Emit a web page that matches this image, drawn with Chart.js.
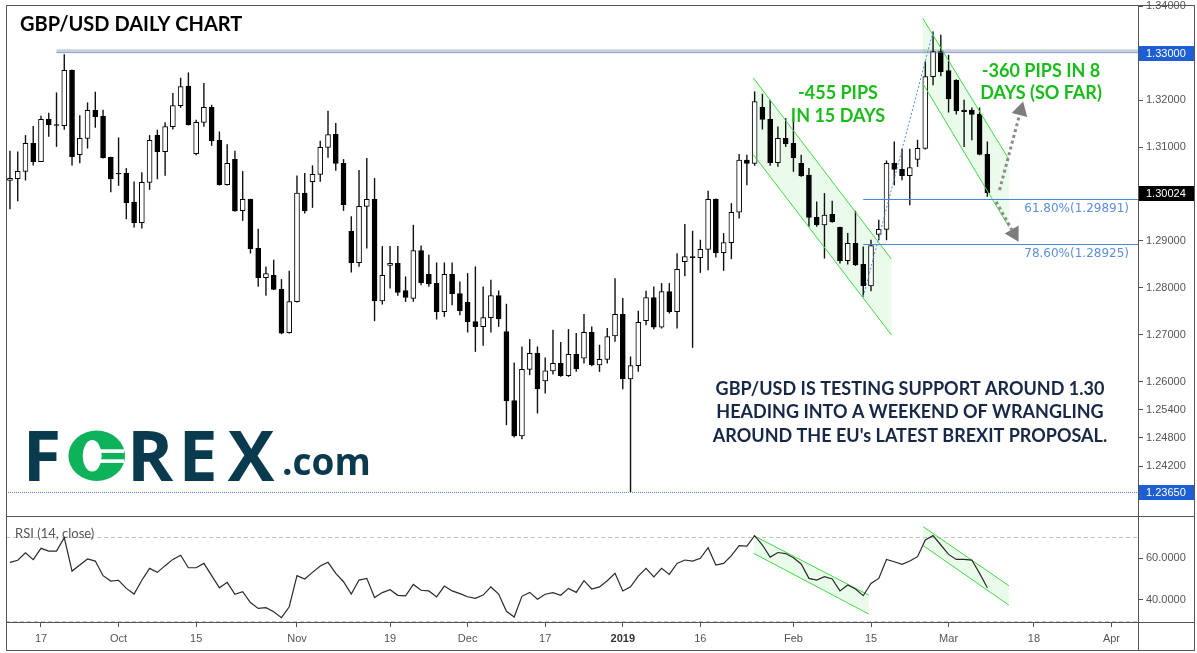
<!DOCTYPE html>
<html>
<head>
<meta charset="utf-8">
<script src="https://cdn.jsdelivr.net/npm/chart.js@4.4.1/dist/chart.umd.min.js"></script>
<style>
  html, body { margin: 0; padding: 0; background: #fff; }
  #wrap { position: relative; width: 1197px; height: 653px; overflow: hidden; }
  #main { position: absolute; left: 0; top: 0; }
  #rsi { position: absolute; left: 0; top: 516px; }
  .ln { position: absolute; background: #555; }
</style>
</head>
<body>
<div id="wrap">
  <canvas id="main" width="1197" height="516"></canvas>
  <canvas id="rsi" width="1197" height="137"></canvas>
  <div class="ln" style="left:6px;top:5px;width:1189px;height:1px"></div>
  <div class="ln" style="left:6px;top:650px;width:1189px;height:1px"></div>
  <div class="ln" style="left:6px;top:5px;width:1px;height:646px"></div>
  <div class="ln" style="left:1194px;top:5px;width:1px;height:646px"></div>
  <div class="ln" style="left:6px;top:516px;width:1189px;height:1px"></div>
  <div class="ln" style="left:6px;top:622px;width:1189px;height:1px"></div>
  <div class="ln" style="left:1138px;top:5px;width:1px;height:646px"></div>
</div>
<script>
// daily candles, 11 Sep 2018 .. 8 Mar 2019 (index = trading day)
var opens = [1.30292,1.30327,1.30484,1.31081,1.30690,1.31592,1.31479,1.31457,1.32637,1.30839,
  1.31187,1.31784,1.31656,1.30782,1.30441,1.30441,1.29830,1.29389,1.30249,1.31251,
  1.30903,1.31436,1.31884,1.32303,1.30860,1.31528,1.31848,1.31145,1.30199,1.30739,
  1.29645,1.29887,1.28842,1.28217,1.28267,1.27968,1.27044,1.27705,1.30022,1.30264,
  1.30420,1.30995,1.31272,1.30654,1.29204,1.28536,1.29737,1.29887,1.27719,1.28479,
  1.28522,1.27939,1.27776,1.28792,1.28288,1.28096,1.27492,1.28288,1.27875,1.27691,
  1.27278,1.27172,1.27364,1.27833,1.27065,1.25594,1.24841,1.26262,1.26603,1.26013,
  1.26227,1.26390,1.26127,1.26582,1.26497,1.27051,1.26355,1.26475,1.26973,1.27435,
  1.26056,1.26340,1.27300,1.27790,1.27158,1.27918,1.27492,1.28558,1.28664,1.28643,
  1.28821,1.29887,1.28750,1.28963,1.29610,1.30725,1.30654,1.31848,1.31599,1.30668,
  1.31187,1.31081,1.30654,1.30405,1.29503,1.29339,1.29567,1.29290,1.28579,1.28948,
  1.28500,1.28039,1.29140,1.29247,1.30654,1.30526,1.30391,1.30739,1.30974,1.32502,
  1.33035,1.32630,1.32431,1.31791,1.31791,1.31699,1.30846];
var highs = [1.30918,1.30903,1.31251,1.31443,1.31663,1.31727,1.32161,1.32978,1.32650,1.31677,
  1.31948,1.32175,1.31791,1.30790,1.31202,1.30548,1.30264,1.30462,1.31251,1.31365,
  1.31528,1.32147,1.32474,1.32588,1.31578,1.32360,1.31898,1.31329,1.31059,1.30918,
  1.30484,1.29895,1.29254,1.28451,1.28593,1.28181,1.28359,1.30391,1.30441,1.30605,
  1.31130,1.31770,1.31507,1.30739,1.29524,1.30505,1.30761,1.30335,1.28885,1.28885,
  1.28885,1.28238,1.29339,1.28899,1.28700,1.28536,1.28536,1.28536,1.28131,1.28309,
  1.28451,1.28025,1.28167,1.27939,1.27655,1.26404,1.26745,1.26902,1.26745,1.26511,
  1.27101,1.26838,1.27115,1.27030,1.27435,1.27172,1.26781,1.27136,1.28202,1.27776,
  1.26532,1.27506,1.27932,1.28025,1.28096,1.28096,1.28735,1.29354,1.29212,1.29020,
  1.30064,1.29900,1.29162,1.29801,1.30846,1.30832,1.32182,1.32133,1.32004,1.31436,
  1.31613,1.31613,1.30832,1.30548,1.29837,1.30015,1.29851,1.29300,1.29162,1.29638,
  1.28877,1.29019,1.29446,1.30711,1.31116,1.30960,1.30960,1.31152,1.32822,1.33461,
  1.33390,1.32964,1.32440,1.32004,1.31841,1.31841,1.31116];
var lows = [1.29680,1.29851,1.30292,1.30612,1.30690,1.31223,1.31010,1.31372,1.30612,1.30661,
  1.30974,1.31415,1.30760,1.30043,1.30178,1.29467,1.29290,1.29268,1.30093,1.30320,
  1.30391,1.31379,1.31841,1.31465,1.30832,1.31436,1.31031,1.30185,1.30185,1.29625,
  1.29432,1.28735,1.28025,1.27833,1.27955,1.27015,1.27030,1.27690,1.29588,1.29709,
  1.30264,1.30775,1.30498,1.29645,1.28330,1.28451,1.28842,1.27293,1.27648,1.27989,
  1.27833,1.27705,1.27705,1.28060,1.28025,1.27328,1.27385,1.27634,1.27421,1.27051,
  1.26639,1.26767,1.27051,1.27172,1.25075,1.24812,1.24777,1.26141,1.25324,1.25750,
  1.26155,1.26106,1.26106,1.26212,1.26390,1.26333,1.26212,1.26390,1.26852,1.25843,
  1.23650,1.26212,1.27207,1.27122,1.27136,1.27456,1.27136,1.28252,1.26724,1.28323,
  1.28380,1.28650,1.28366,1.28615,1.29482,1.30192,1.30605,1.31379,1.30605,1.30583,
  1.31009,1.30477,1.30370,1.29304,1.29304,1.28629,1.29389,1.28522,1.28500,1.28470,
  1.27811,1.27932,1.29019,1.29019,1.30192,1.30299,1.29766,1.30583,1.30952,1.32324,
  1.32516,1.31742,1.31699,1.31009,1.31152,1.30830,1.29943];
var closes = [1.30335,1.30484,1.31081,1.30690,1.31592,1.31479,1.31464,1.32637,1.30797,1.31187,
  1.31784,1.31649,1.30775,1.30320,1.30427,1.29816,1.29389,1.30249,1.31145,1.30903,
  1.31436,1.31884,1.32289,1.31479,1.31528,1.31848,1.31137,1.30199,1.30654,1.29638,
  1.29887,1.28835,1.28217,1.28302,1.27968,1.27030,1.27705,1.30022,1.29638,1.30420,
  1.30995,1.31265,1.30654,1.29773,1.28536,1.29737,1.29887,1.27719,1.28267,1.28522,
  1.27904,1.27797,1.28792,1.28110,1.28081,1.27492,1.28288,1.27875,1.27513,1.27278,
  1.27172,1.27364,1.27833,1.27335,1.25587,1.24841,1.26262,1.26603,1.25843,1.26227,
  1.26390,1.26127,1.26582,1.26269,1.27051,1.26355,1.26475,1.26959,1.27435,1.26056,
  1.26340,1.27264,1.27790,1.27158,1.27918,1.27492,1.28394,1.28664,1.28643,1.28821,
  1.29887,1.28750,1.28963,1.29610,1.30725,1.30654,1.31969,1.31592,1.30668,1.31187,
  1.31066,1.30775,1.30384,1.29503,1.29339,1.29553,1.29410,1.28579,1.28948,1.28486,
  1.28039,1.28899,1.29247,1.30654,1.30526,1.30391,1.30562,1.30974,1.32502,1.33035,
  1.32609,1.32026,1.31770,1.31756,1.31699,1.30846,1.30024];
// RSI(14, close)
var rsi14 = [58.0,59.0,62.6,59.3,64.7,63.4,63.4,69.8,53.8,56.7,
  59.6,58.6,51.6,49.0,49.4,45.5,42.8,49.4,55.1,53.2,
  56.4,59.4,61.4,55.4,55.4,57.5,51.6,45.8,48.4,42.7,
  43.9,38.7,35.9,36.3,34.3,31.5,36.7,51.6,50.0,53.2,
  56.2,58.0,52.7,48.7,42.8,49.5,50.3,41.1,43.5,44.9,
  42.2,41.9,47.4,44.6,44.3,41.4,46.6,44.3,43.0,41.5,
  40.7,42.3,46.2,42.8,34.5,31.8,41.7,43.6,40.3,42.7,
  43.5,42.2,45.5,43.6,49.2,45.2,46.2,49.2,52.7,44.3,
  46.3,51.4,55.1,51.0,55.1,52.2,57.5,59.1,58.6,59.9,
  65.0,56.7,57.5,61.2,66.0,65.8,70.8,66.3,60.5,62.7,
  62.2,60.2,57.2,50.3,49.5,51.1,50.0,44.3,47.1,45.2,
  42.0,47.9,50.3,59.4,58.3,57.0,58.6,60.7,68.7,70.8,
  66.3,61.8,59.4,59.4,59.1,52.7,45.8];

// x axis: trading-day index of each date label
var dateTickIdx = [4, 14, 24, 37, 49, 59, 69, 79, 89, 101, 111, 121, 132, 142];
var dateTickText = ['17', 'Oct', '15', 'Nov', '19', 'Dec', '17', '2019', '16', 'Feb', '15', 'Mar', '18', 'Apr'];
var priceTicks = [1.34, 1.32, 1.31, 1.29, 1.28, 1.27, 1.26, 1.254, 1.248, 1.242];
var rsiTicks = [40, 60];

// drawings
var resistance = { level: 1.33, top: 1.33085, from: 6.0 };
var support = 1.2365;
var lastPrice = 1.30024;
var fibLevels = [{ label: '61.80%(1.29891)', value: 1.29891 }, { label: '78.60%(1.28925)', value: 1.28925 }];
var fibSwing = { lowIdx: 110, low: 1.27811, highIdx: 119, high: 1.33461 };
var priceChannels = [
  { x1: 95.80, x2: 113.64, up1: 1.32480, up2: 1.28608, lo1: 1.30846, lo2: 1.26994 },
  { x1: 117.67, x2: 128.77, up1: 1.33746, up2: 1.30740, lo1: 1.32360, lo2: 1.29303 }
];
var rsiChannels = [
  { x1: 95.88, x2: 110.71, up1: 70.8, up2: 42.3, lo1: 62.3, lo2: 33.2 },
  { x1: 117.72, x2: 128.77, up1: 75.1, up2: 46.8, lo1: 66.0, lo2: 37.5 }
];
var arrows = [
  { from: [127.57, 1.30085], to: [130.61, 1.31974] },
  { from: [127.13, 1.29836], to: [130.02, 1.28983] }
];

var XMIN = -0.512, XMAX = 145.42;
var GREEN_LINE = '#3fdc3f';
var GREEN_FILL = 'rgba(0, 200, 0, 0.08)';
var BLUE = '#5587e2';
var TEXT_GREEN = '#19bd19';
var NAVY = '#172746';
var AXIS_FONT = '"Liberation Sans", Arial, sans-serif';

var idx = opens.map(function (_, i) { return i; });

function noPad(scale) {
  scale.paddingTop = 0; scale.paddingBottom = 0; scale.paddingLeft = 0; scale.paddingRight = 0;
}

function fillChannel(ctx, x, y, ch) {
  ctx.beginPath();
  ctx.moveTo(x.getPixelForValue(ch.x1), y.getPixelForValue(ch.up1));
  ctx.lineTo(x.getPixelForValue(ch.x2), y.getPixelForValue(ch.up2));
  ctx.lineTo(x.getPixelForValue(ch.x2), y.getPixelForValue(ch.lo2));
  ctx.lineTo(x.getPixelForValue(ch.x1), y.getPixelForValue(ch.lo1));
  ctx.closePath();
  ctx.fillStyle = GREEN_FILL;
  ctx.fill();
}

function strokeChannel(ctx, x, y, ch) {
  ctx.strokeStyle = GREEN_LINE;
  ctx.lineWidth = 1;
  ctx.beginPath();
  ctx.moveTo(x.getPixelForValue(ch.x1), y.getPixelForValue(ch.up1));
  ctx.lineTo(x.getPixelForValue(ch.x2), y.getPixelForValue(ch.up2));
  ctx.moveTo(x.getPixelForValue(ch.x1), y.getPixelForValue(ch.lo1));
  ctx.lineTo(x.getPixelForValue(ch.x2), y.getPixelForValue(ch.lo2));
  ctx.stroke();
}

function drawArrow(ctx, x, y, a) {
  var x0 = x.getPixelForValue(a.from[0]), y0 = y.getPixelForValue(a.from[1]);
  var x1 = x.getPixelForValue(a.to[0]), y1 = y.getPixelForValue(a.to[1]);
  var len = Math.hypot(x1 - x0, y1 - y0), ux = (x1 - x0) / len, uy = (y1 - y0) / len;
  var bx = x1 - ux * 14, by = y1 - uy * 14;
  ctx.strokeStyle = '#8a8a8a';
  ctx.lineWidth = 3;
  ctx.setLineDash([3, 3]);
  ctx.beginPath(); ctx.moveTo(x0, y0); ctx.lineTo(bx, by); ctx.stroke();
  ctx.setLineDash([]);
  ctx.fillStyle = '#7d7d7d';
  ctx.beginPath();
  ctx.moveTo(x1, y1);
  ctx.lineTo(bx - uy * 8, by + ux * 8);
  ctx.lineTo(bx + uy * 8, by - ux * 8);
  ctx.closePath();
  ctx.fill();
}

function centered(ctx, lines, cx, y0, step) {
  ctx.textAlign = 'center';
  lines.forEach(function (t, i) { ctx.fillText(t, cx, y0 + i * step); });
}

function drawLogo(ctx) {
  var navy = '#0a3a4e';
  ctx.fillStyle = navy;
  ctx.font = 'bold 70px "Open Sans", sans-serif';
  ctx.textAlign = 'center';
  ctx.textBaseline = 'alphabetic';
  ctx.fillText('F', 42, 481);
  ctx.fillText('R', 150, 481);
  ctx.fillText('E', 198, 481);
  ctx.fillText('X', 251, 481);
  ctx.textAlign = 'left';
  ctx.font = 'bold 37px "Open Sans", sans-serif';
  ctx.fillText('.com', 282, 475);
  // the green "O" of the logo
  ctx.fillStyle = '#0db25a';
  ctx.beginPath(); ctx.ellipse(96.7, 455.8, 28.3, 25.2, 0, 0, Math.PI * 2); ctx.fill();
  ctx.fillStyle = '#fff';
  ctx.beginPath(); ctx.ellipse(92.2, 455.8, 9.5, 15.8, 0, 0, Math.PI * 2); ctx.fill();
  ctx.fillRect(95, 449.3, 29, 3.6);
  ctx.fillRect(95, 459.3, 29, 3.6);
}

var mainDeco = {
  id: 'mainDeco',
  beforeDatasetsDraw: function (chart) {
    var ctx = chart.ctx, a = chart.chartArea, x = chart.scales.x, y = chart.scales.y;
    ctx.save();
    var bx = x.getPixelForValue(resistance.from);
    var ty = y.getPixelForValue(resistance.top), by = y.getPixelForValue(resistance.level);
    ctx.fillStyle = '#c9ced8';
    ctx.fillRect(bx, ty, a.right - bx, by - ty);
    priceChannels.forEach(function (ch) { fillChannel(ctx, x, y, ch); });
    ctx.restore();
  },
  afterDatasetsDraw: function (chart) {
    var ctx = chart.ctx, a = chart.chartArea, x = chart.scales.x, y = chart.scales.y;
    ctx.save();
    priceChannels.forEach(function (ch) { strokeChannel(ctx, x, y, ch); });

    // dotted horizontal levels
    ctx.strokeStyle = BLUE;
    ctx.lineWidth = 1;
    ctx.setLineDash([1, 1]);
    var ry = Math.round(y.getPixelForValue(resistance.level)) - 0.5;
    ctx.beginPath(); ctx.moveTo(x.getPixelForValue(resistance.from), ry); ctx.lineTo(a.right, ry); ctx.stroke();
    var sy = Math.round(y.getPixelForValue(support)) + 0.5;
    ctx.beginPath(); ctx.moveTo(a.left, sy); ctx.lineTo(a.right, sy); ctx.stroke();

    // fib swing line
    ctx.setLineDash([2, 2]);
    ctx.beginPath();
    ctx.moveTo(x.getPixelForValue(fibSwing.lowIdx), y.getPixelForValue(fibSwing.low));
    ctx.lineTo(x.getPixelForValue(fibSwing.highIdx), y.getPixelForValue(fibSwing.high));
    ctx.stroke();
    ctx.setLineDash([]);

    // fib levels
    ctx.font = '12px "DejaVu Sans", sans-serif';
    ctx.textAlign = 'right';
    ctx.textBaseline = 'alphabetic';
    fibLevels.forEach(function (f) {
      var fy = Math.round(y.getPixelForValue(f.value)) + 0.5;
      ctx.strokeStyle = '#4a82e0';
      ctx.beginPath(); ctx.moveTo(x.getPixelForValue(fibSwing.lowIdx), fy); ctx.lineTo(a.right, fy); ctx.stroke();
      ctx.fillStyle = '#5a8fe2';
      ctx.fillText(f.label, 1129, fy + 12);
    });

    arrows.forEach(function (ar) { drawArrow(ctx, x, y, ar); });

    // texts
    ctx.textBaseline = 'alphabetic';
    ctx.fillStyle = '#000';
    ctx.textAlign = 'left';
    ctx.font = 'bold 20px Lato, sans-serif';
    ctx.fillText('GBP/USD DAILY CHART', 20, 30.5);

    ctx.fillStyle = TEXT_GREEN;
    ctx.font = 'bold 18px Lato, sans-serif';
    centered(ctx, ['-455 PIPS', 'IN 15 DAYS'], 838, 98.5, 23.5);
    centered(ctx, ['-360 PIPS IN 8', 'DAYS (SO FAR)'], 1041, 76.5, 22.5);

    ctx.fillStyle = NAVY;
    ctx.font = 'bold 18px Lato, sans-serif';
    centered(ctx, ['GBP/USD IS TESTING SUPPORT AROUND 1.30',
      'HEADING INTO A WEEKEND OF WRANGLING',
      "AROUND THE EU's LATEST BREXIT PROPOSAL."], 910, 395, 23.3);

    drawLogo(ctx);
    ctx.restore();
  },
  afterDraw: function (chart) {
    var ctx = chart.ctx, a = chart.chartArea, y = chart.scales.y;
    ctx.save();
    ctx.font = '11px ' + AXIS_FONT;
    ctx.textAlign = 'left';
    ctx.textBaseline = 'middle';
    [[resistance.level, '#1d5fd3'], [lastPrice, '#000'], [support, '#1d5fd3']].forEach(function (b) {
      var py = Math.round(y.getPixelForValue(b[0]));
      ctx.fillStyle = b[1];
      ctx.fillRect(a.right + 1, py - 7, 56, 15);
      ctx.fillStyle = '#fff';
      ctx.fillText(b[0].toFixed(5), a.right + 8, py + 0.5);
    });
    ctx.restore();
  }
};

new Chart(document.getElementById('main'), {
  type: 'bar',
  data: {
    datasets: [
      {
        label: 'wick',
        data: idx.map(function (i) { return { x: i, y: [lows[i], highs[i]] }; }),
        backgroundColor: '#111',
        borderWidth: 0,
        barThickness: 1,
        inflateAmount: 0.2,
        grouped: false,
        order: 2
      },
      {
        label: 'body',
        data: idx.map(function (i) { return { x: i, y: [opens[i], closes[i]] }; }),
        backgroundColor: idx.map(function (i) { return closes[i] >= opens[i] ? '#fff' : '#000'; }),
        borderColor: '#000',
        borderWidth: 1,
        borderSkipped: false,
        barThickness: 5,
        grouped: false,
        order: 1
      }
    ]
  },
  options: {
    responsive: false,
    animation: false,
    events: [],
    layout: { padding: { left: 6, top: 5, right: 0, bottom: 0 }, autoPadding: false },
    plugins: { legend: { display: false }, tooltip: { enabled: false } },
    scales: {
      x: { type: 'linear', min: XMIN, max: XMAX, offset: false, grid: { offset: false }, display: false },
      y: {
        position: 'right',
        min: 1.231343,
        max: 1.340299,
        afterFit: function (s) { s.width = 59; noPad(s); },
        afterBuildTicks: function (s) { s.ticks = priceTicks.map(function (v) { return { value: v }; }); },
        ticks: {
          padding: 3,
          color: '#555',
          font: { size: 11, family: AXIS_FONT },
          callback: function (v) { return Number(v).toFixed(5); }
        },
        grid: { drawOnChartArea: false, tickLength: 5, color: '#555' },
        border: { display: false }
      }
    }
  },
  plugins: [mainDeco]
});

var rsiDeco = {
  id: 'rsiDeco',
  beforeDatasetsDraw: function (chart) {
    var ctx = chart.ctx, a = chart.chartArea, x = chart.scales.x, y = chart.scales.y;
    ctx.save();
    ctx.strokeStyle = '#c4c4c4';
    ctx.lineWidth = 1;
    ctx.setLineDash([4, 3]);
    [70, 30].forEach(function (v) {
      var py = Math.round(y.getPixelForValue(v)) + 0.5;
      ctx.beginPath(); ctx.moveTo(a.left, py); ctx.lineTo(a.right, py); ctx.stroke();
    });
    ctx.setLineDash([]);
    rsiChannels.forEach(function (ch) { fillChannel(ctx, x, y, ch); });
    rsiChannels.forEach(function (ch) { strokeChannel(ctx, x, y, ch); });
    ctx.fillStyle = '#555';
    ctx.font = '13px Lato, sans-serif';
    ctx.textAlign = 'left';
    ctx.textBaseline = 'middle';
    ctx.fillText('RSI (14, close)', 15, a.top + 18);
    ctx.restore();
  }
};

new Chart(document.getElementById('rsi'), {
  type: 'line',
  data: {
    datasets: [{
      label: 'RSI',
      data: idx.map(function (i) { return { x: i, y: rsi14[i] }; }),
      borderColor: '#2a2a2a',
      borderWidth: 1.2,
      pointRadius: 0,
      tension: 0
    }]
  },
  options: {
    responsive: false,
    animation: false,
    events: [],
    layout: { padding: { left: 6, top: 0, right: 0, bottom: 0 }, autoPadding: false },
    plugins: { legend: { display: false }, tooltip: { enabled: false } },
    scales: {
      x: {
        type: 'linear',
        min: XMIN,
        max: XMAX,
        offset: false,
        afterFit: function (s) { s.height = 31; noPad(s); },
        afterBuildTicks: function (s) { s.ticks = dateTickIdx.map(function (v) { return { value: v }; }); },
        ticks: {
          autoSkip: false,
          maxRotation: 0,
          padding: 5,
          color: function (c) { return c.tick && c.tick.value === 79 ? '#333' : '#555'; },
          font: function (c) {
            return { size: 11, family: AXIS_FONT, weight: c.tick && c.tick.value === 79 ? 'bold' : 'normal' };
          },
          callback: function (v) { return dateTickText[dateTickIdx.indexOf(v)]; }
        },
        grid: { drawOnChartArea: false, tickLength: 5, color: '#555' },
        border: { display: false }
      },
      y: {
        position: 'right',
        min: 29.4,
        max: 80.2,
        afterFit: function (s) { s.width = 59; noPad(s); },
        afterBuildTicks: function (s) { s.ticks = rsiTicks.map(function (v) { return { value: v }; }); },
        ticks: {
          padding: 3,
          color: '#555',
          font: { size: 11, family: AXIS_FONT },
          callback: function (v) { return Number(v).toFixed(4); }
        },
        grid: { drawOnChartArea: false, tickLength: 5, color: '#555' },
        border: { display: false }
      }
    }
  },
  plugins: [rsiDeco]
});
</script>
</body>
</html>
